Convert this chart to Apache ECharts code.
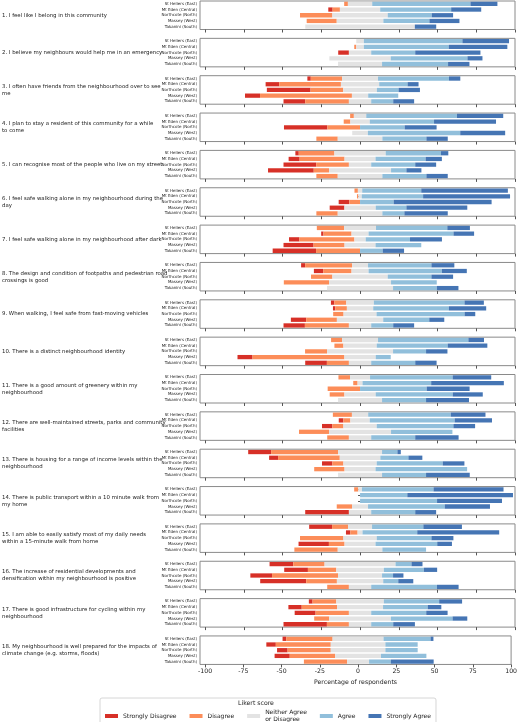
<!DOCTYPE html>
<html>
<head>
<meta charset="utf-8">
<script src="https://cdn.jsdelivr.net/npm/echarts@6/dist/echarts.min.js"></script>
<style>
  html, body { margin: 0; padding: 0; background: #fff; }
  #chart { width: 520px; height: 722px; }
</style>
</head>
<body>
<div id="chart"></div>
<script>
var areas = ['St Heliers (East)', 'Mt Eden (Central)', 'Northcote (North)', 'Massey (West)', 'Takanini (South)'];

var questions = [
  '1. I feel like I belong in this community',
  '2. I believe my neighbours would help me in an emergency',
  '3. I often have friends from the neighbourhood over to see\nme',
  '4. I plan to stay a resident of this community for a while\nto come',
  '5. I can recognise most of the people who live on my street',
  '6. I feel safe walking alone in my neighbourhood during the\nday',
  '7. I feel safe walking alone in my neighbourhood after dark',
  '8. The design and condition of footpaths and pedestrian road\ncrossings is good',
  '9. When walking, I feel safe from fast-moving vehicles',
  '10. There is a distinct neighbourhood identity',
  '11. There is a good amount of greenery within my\nneighbourhood',
  '12. There are well-maintained streets, parks and community\nfacilities',
  '13. There is housing for a range of income levels within the\nneighbourhood',
  '14. There is public transport within a 10 minute walk from\nmy home',
  '15. I am able to easily satisfy most of my daily needs\nwithin a 15-minute walk from home',
  '16. The increase of residential developments and\ndensification within my neighbourhood is positive',
  '17. There is good infrastructure for cycling within my\nneighbourhood',
  '18. My neighbourhood is well prepared for the impacts of\nclimate change (e.g. storms, floods)'
];

var levels = ['Strongly Disagree', 'Disagree', 'Neither Agree\nor Disagree', 'Agree', 'Strongly Agree'];
var levelColors = ['#d73027', '#fc8d59', '#e3e3e3', '#91bfdb', '#4575b4'];

var tickValues = [-100, -75, -50, -25, 0, 25, 50, 75, 100];

// % of respondents per question, rows in order of areas
var stronglyDisagree = [
  [0, 2.8, 0, 0, 0], [0, 0, 6.9, 0, 0], [2.2, 8.8, 28.2, 9.7, 14], [0, 0, 28, 0, 0],
  [2.2, 7.1, 21.1, 29.5, 0], [0, 0, 6.9, 9.5, 0], [0, 1.5, 6.7, 19.4, 28], [2.6, 6, 0, 0, 0],
  [2.2, 1.5, 0, 9.9, 13.8], [0, 0, 0, 9.7, 14], [0, 0, 0, 0, 0], [0, 3, 6.7, 0, 0],
  [14.8, 5.8, 6.7, 0, 0], [0, 0, 0, 0, 28.2], [14.8, 2.8, 0, 19.6, 0], [15.3, 15.3, 14, 29.7, 0],
  [2.4, 8.6, 13.5, 0, 28], [2.4, 6.2, 6.9, 9.9, 0]
];
var disagree = [
  [2.4, 4.7, 20.9, 19.4, 0], [0, 1.3, 0, 0, 0], [20.2, 39.8, 21.1, 59.3, 28.2], [2.4, 4.3, 21.1, 0, 13.8],
  [23, 29, 21.1, 9.9, 13.8], [2.2, 0.9, 6.9, 0, 13.8], [17.6, 18.1, 35.5, 20, 28.4], [30.3, 18.3, 13.8, 29.2, 0],
  [7.7, 7.5, 6.7, 19.8, 28.4], [7.1, 5.8, 14.2, 59.3, 14.2], [7.5, 2.8, 20.9, 9.5, 0], [12.3, 4.5, 7.1, 19.4, 14],
  [43.2, 39.8, 7.1, 19.6, 0], [2.6, 0, 0, 9.9, 0], [10.3, 4.7, 28, 10.1, 28], [20.2, 18.3, 42.6, 19.8, 14],
  [15.3, 22.8, 21.5, 9.7, 14.2], [30.3, 35.9, 28.2, 29.7, 28.2]
];
var neutral = [
  [15.7, 26, 35.7, 30.1, 70.7], [4.9, 4.9, 14.4, 39.6, 28.4], [23.2, 24.7, 21.7, 10.5, 14.4], [8, 12.5, 0, 10.1, 28.8],
  [33.1, 20, 14.4, 40, 28.8], [2.8, 2.2, 0, 20.2, 28.8], [20.6, 11, 7.3, 20, 0], [10.3, 11, 35.7, 40, 42.6],
  [17.8, 17, 21.3, 29.9, 14.4], [23.2, 21.5, 42.6, 20.2, 14.4], [12.9, 3.2, 0, 20.2, 28.4], [10.5, 12.5, 21.5, 40, 14.4],
  [28.4, 26.2, 21.5, 20, 28.4], [2.4, 0, 0, 10.3, 14.4], [15.5, 3.2, 21.5, 20, 28.8], [45.8, 30.7, 28.4, 29.9, 14.4],
  [30.7, 29.7, 14.4, 39.8, 14.4], [33.3, 35.7, 35.7, 29.9, 14.4]
];
var agree = [
  [63.4, 45.8, 28.4, 29.7, 0], [63.6, 54.8, 28.4, 49.5, 42.6], [45.8, 18.3, 14, 19.4, 14.2], [58.5, 41.5, 28.8, 59.6, 28.4],
  [35.7, 32.3, 28.4, 9.9, 28.4], [38.1, 39.6, 21.7, 19.8, 14.2], [46, 54.8, 28.6, 29.5, 14.6], [40.9, 47.3, 28.2, 29.5, 28.2],
  [58.5, 48.8, 56.8, 29.7, 14.2], [58.3, 45.8, 21.3, 9.7, 28.4], [53.3, 44.3, 43, 49.7, 28.4], [53.3, 54.8, 49.5, 39.6, 28.4],
  [9.9, 18.1, 42.6, 59.1, 28.4], [46.2, 30.5, 49.7, 49.5, 28.4], [33.1, 35.3, 35.3, 39.8, 28.2], [10.3, 25.8, 7.1, 9.7, 42.4],
  [35.7, 28.8, 35.5, 39.8, 14.2], [30.7, 21.1, 21.1, 29.7, 14.2]
];
var stronglyAgree = [
  [17.4, 19.4, 13.8, 19.4, 13.8], [30.1, 37.8, 42.1, 9.7, 13.8], [7.3, 7.1, 13.8, 0, 13.5], [29.9, 40, 20.6, 29, 13.8],
  [4.7, 10.5, 13.5, 9.7, 13.8], [55.9, 56.1, 63.2, 39.3, 28], [14.6, 13.3, 20.6, 0, 13.8], [14.8, 16.1, 14, 0, 14],
  [12.5, 24.1, 6.9, 9.7, 13.5], [10.1, 25.6, 13.8, 0, 13.8], [24.9, 46.9, 27.7, 19.4, 27.7], [22.4, 24.1, 14, 0, 28],
  [2.2, 9, 14, 0, 28.2], [45.2, 68.2, 41.9, 29.2, 13.5], [24.9, 52.9, 14.2, 9.5, 0], [7.1, 8.6, 6.7, 9.7, 14],
  [14.8, 8.8, 13.8, 9.5, 14], [1.9, 0, 0, 0, 28]
];

var chart = echarts.init(document.getElementById('chart'), null, { renderer: 'canvas' });

var grids = [], xAxes = [], yAxes = [], series = [], graphics = [];
var panelTop = 1, panelStep = 37.35, panelH = 28.5;
var levelData = [stronglyDisagree, disagree, neutral, agree, stronglyAgree];

questions.forEach(function (q, i) {
  var top = panelTop + i * panelStep;
  var last = i === questions.length - 1;
  grids.push({ left: 200, right: 5, top: top, height: panelH, show: true, borderColor: '#8a8a8a', borderWidth: 1 });
  xAxes.push({
    type: 'value', gridIndex: i, min: -103.3, max: 100,
    axisLine: { show: false },
    splitLine: { show: false },
    axisTick: { show: true, length: 3, lineStyle: { color: '#555' }, customValues: tickValues },
    axisLabel: { show: last, customValues: tickValues, fontSize: 6.2, color: '#222', margin: 4, fontFamily: 'DejaVu Sans' },
    name: last ? 'Percentage of respondents' : '',
    nameLocation: 'middle', nameGap: 15,
    nameTextStyle: { fontSize: 6.2, color: '#222', fontFamily: 'DejaVu Sans' }
  });
  yAxes.push({
    type: 'category', gridIndex: i, inverse: true, data: areas,
    axisLine: { show: false },
    axisTick: { show: true, length: 2, interval: 0, alignWithLabel: true, lineStyle: { color: '#555' } },
    axisLabel: { interval: 0, fontSize: 4, color: '#222', margin: 3, fontFamily: 'DejaVu Sans' }
  });
  // offset so that the neutral block is centred on zero
  var base = areas.map(function (a, r) {
    return -(stronglyDisagree[i][r] + disagree[i][r] + neutral[i][r] / 2);
  });
  series.push({
    type: 'bar', name: 'base', xAxisIndex: i, yAxisIndex: i, stack: 'q' + i, stackStrategy: 'all',
    data: base, itemStyle: { opacity: 0 }, barCategoryGap: '25%', silent: true
  });
  levels.forEach(function (lv, k) {
    series.push({
      type: 'bar', name: lv, xAxisIndex: i, yAxisIndex: i, stack: 'q' + i, stackStrategy: 'all',
      data: levelData[k][i], barCategoryGap: '25%',
      itemStyle: { color: levelColors[k] }
    });
  });
  graphics.push({
    type: 'text', left: 2, top: top + panelH / 2 - (q.indexOf('\n') >= 0 ? 7 : 3.5),
    style: { text: q, fontSize: 5.4, lineHeight: 7, fill: '#222', fontFamily: 'DejaVu Sans' }
  });
});

graphics.push({
  type: 'text', left: 238, top: 700,
  style: { text: 'Likert score', fontSize: 6.2, fill: '#222', fontFamily: 'DejaVu Sans' }
});

var option = {
  animation: false,
  grid: grids,
  xAxis: xAxes,
  yAxis: yAxes,
  series: series,
  graphic: graphics,
  legend: {
    data: levels.map(function (lv, k) { return { name: lv, itemStyle: { color: levelColors[k] } }; }),
    left: 100, top: 698,
    padding: [11, 5, 4, 5],
    itemWidth: 13, itemHeight: 4, itemGap: 13,
    icon: 'rect',
    borderColor: '#ccc', borderWidth: 0.8, borderRadius: 2,
    textStyle: { fontSize: 6, color: '#222', fontFamily: 'DejaVu Sans', lineHeight: 7 }
  }
};
chart.setOption(option);
</script>
</body>
</html>
